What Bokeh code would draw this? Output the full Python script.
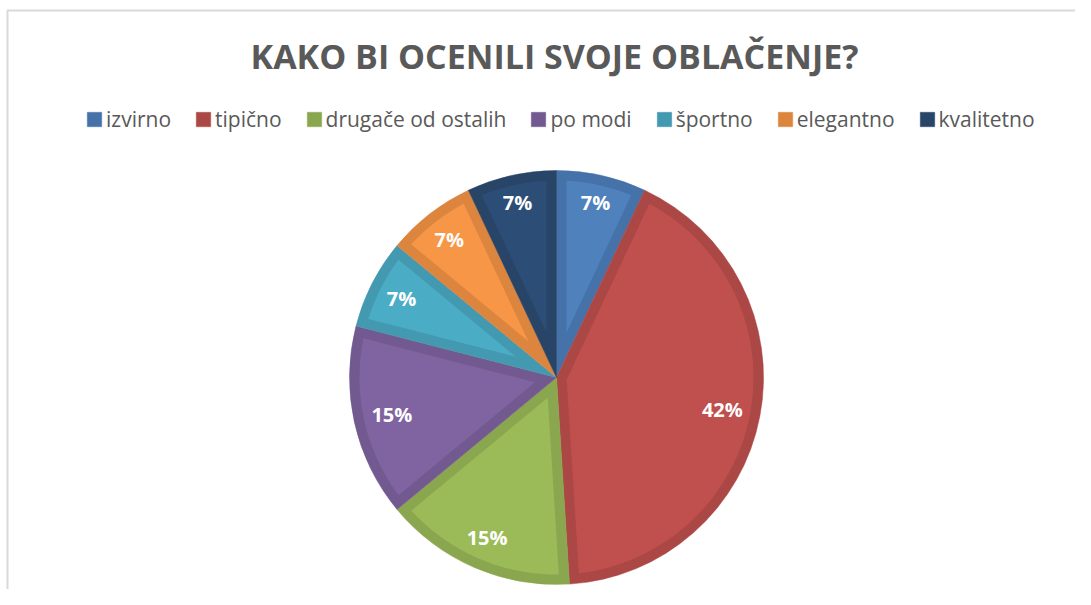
import numpy as np
from bokeh.plotting import figure
from bokeh.models import Range1d, Legend, LegendItem, ColumnDataSource
from bokeh.core.properties import value
from bokeh.embed import file_html
from bokeh.resources import INLINE

# ---- data ----
categories = ["izvirno", "tipično", "drugače od ostalih", "po modi", "športno", "elegantno", "kvalitetno"]
percents = [7, 42, 15, 15, 7, 7, 7]
labels = ["7%", "42%", "15%", "15%", "7%", "7%", "7%"]
fill_colors = ["#4F81BD", "#C0504D", "#9BBB59", "#8064A2", "#4BACC6", "#F79646", "#2C4D75"]
edge_colors = ["#4672AA", "#AB4745", "#8AA74F", "#725990", "#4399B0", "#DC853E", "#284568"]
title_text = "KAKO BI OCENILI SVOJE OBLAČENJE?"

# ---- layout ----
W, H = 1075, 589
cx, cy, R = 556, H - 377, 207
inset = 10

p = figure(width=W, height=H, x_range=Range1d(0, W), y_range=Range1d(0, H),
           output_backend="svg", toolbar_location=None, min_border=0,
           x_axis_location=None, y_axis_location=None, outline_line_color=None)
p.grid.visible = False
p.background_fill_color = "white"
p.border_fill_color = "white"

# chart area frame (top and left edges visible, right/bottom cropped)
p.quad(left=[7], right=[W + 20], top=[H - 10], bottom=[-20], fill_alpha=0,
       line_color="#D9D9D9", line_width=2)

vals = np.array(percents, dtype=float)
frac = vals / vals.sum()
cum = np.concatenate([[0], np.cumsum(frac)]) * 2 * np.pi  # clockwise from top
t1, t2 = cum[:-1], cum[1:]

src = ColumnDataSource(dict(
    start=np.pi / 2 - t2, end=np.pi / 2 - t1,
    edge=edge_colors, fill=fill_colors, cat=categories))
outer = p.wedge(x=cx, y=cy, radius=R, start_angle="start", end_angle="end",
                fill_color="edge", line_color="edge", line_width=0.5, source=src)

# inner (inset) shapes
xs, ys = [], []
for a, b in zip(t1, t2):
    half = (b - a) / 2
    mid = (a + b) / 2
    s = inset / np.sin(half)
    delta = np.arcsin(inset / (R - inset))
    arc = np.linspace(a + delta, b - delta, 80)
    px = [cx + s * np.sin(mid)] + list(cx + (R - inset) * np.sin(arc))
    py = [cy + s * np.cos(mid)] + list(cy + (R - inset) * np.cos(arc))
    xs.append(px)
    ys.append(py)
p.patches(xs=xs, ys=ys, fill_color=fill_colors, line_color=None)

# data labels ("inside end": text box kept a margin inside the rim)
mids = (t1 + t2) / 2
tw = np.array([12 * len(s) + 4 for s in labels], dtype=float)
th = 16.0
margin = 17.0
lr = R - margin - (tw / 2 * np.abs(np.sin(mids)) + th / 2 * np.abs(np.cos(mids)))
p.text(x=cx + lr * np.sin(mids), y=cy + lr * np.cos(mids), text=labels,
       text_font=value("Open Sans"), text_font_style="bold", text_font_size="20px",
       text_color="white", text_align="center", text_baseline="middle")

# title
p.text(x=[554], y=[H - 55.5], text=[title_text], text_font=value("Open Sans"),
       text_font_style="bold", text_font_size="34px", text_color="#595959",
       text_align="center", text_baseline="middle")

items = [LegendItem(label=c, renderers=[outer], index=i) for i, c in enumerate(categories)]
legend = Legend(items=items, orientation="horizontal", location=(85, 456),
                glyph_width=18, glyph_height=18, label_standoff=3, spacing=23,
                label_text_font="Open Sans", label_text_font_size="21px",
                label_text_color="#595959", padding=0, margin=0,
                border_line_alpha=0, background_fill_alpha=0)
p.add_layout(legend)

open("out.html", "w").write(file_html(p, INLINE))
